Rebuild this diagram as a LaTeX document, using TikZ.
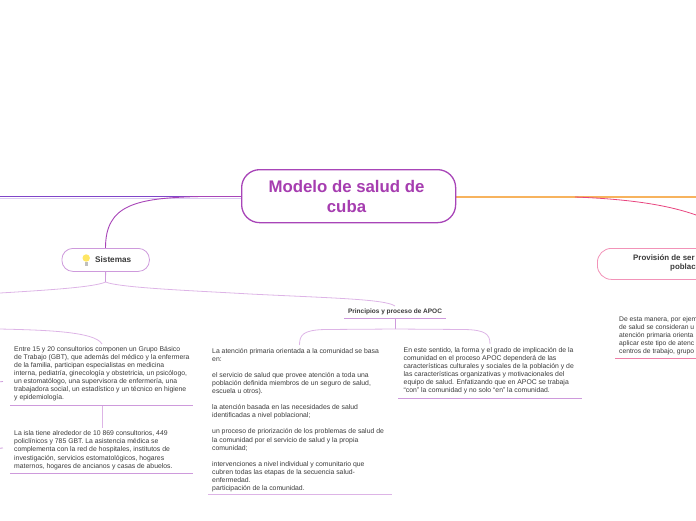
\documentclass[tikz,border=0pt]{standalone}
\usepackage{fontspec}
\setmainfont{Liberation Sans}
\definecolor{pmain}{HTML}{A63DB0}
\definecolor{pline}{HTML}{A845B8}
\definecolor{pmid}{HTML}{CE9ADC}
\definecolor{plight}{HTML}{DDB4E6}
\definecolor{ptop}{HTML}{7F45C8}
\definecolor{ptoplight}{HTML}{DCCBF2}
\definecolor{orangeline}{HTML}{F7B35E}
\definecolor{pinkline}{HTML}{E8457F}
\definecolor{pinkbox}{HTML}{F293B8}
\definecolor{pinkunder}{HTML}{EE7FA8}
\definecolor{txt}{HTML}{3A3A3A}
\tikzset{
  para/.style={anchor=north west,inner sep=0pt,align=left,text=txt,font=\fontsize{6.85}{8.05}\selectfont},
  under/.style={draw=pmid,line width=0.9pt},
  conn/.style={draw=pmid,line width=0.8pt},
  mainbox/.style={draw=pline,line width=1.3pt,rounded corners=18pt,fill=white,inner sep=0pt},
  subbox/.style={draw=pmid,line width=0.8pt,rounded corners=11pt,fill=white,inner sep=0pt},
  pinkrect/.style={draw=pinkbox,line width=0.8pt,rounded corners=14pt,fill=white,inner sep=0pt},
}
\begin{document}
\begin{tikzpicture}[x=1pt,y=-1pt]
\useasboundingbox (0,0) rectangle (696,520);
\clip (0,0) rectangle (696,520);
% anchors of free line ends
\coordinate (leftedge) at (0,196.5);
\coordinate (rightedge) at (696,197);
\coordinate (pinkend) at (696,215);
\coordinate (pinkstart) at (575,197);
\coordinate (sisfork) at (105.5,282);
\coordinate (leftfork) at (0,293);
\coordinate (aleft) at (0,329);
\coordinate (princfork) at (395,329);
% under-lines
\coordinate (ua1) at (10,405.5); \coordinate (ua2) at (193,405.5);
\coordinate (ub1) at (10,473); \coordinate (ub2) at (193,473);
\coordinate (uc1) at (208,494.5); \coordinate (uc2) at (392,494.5);
\coordinate (ud1) at (398,398); \coordinate (ud2) at (582,398);
\coordinate (up1) at (344,318.5); \coordinate (up2) at (446,318.5);
\coordinate (uq1) at (615,358.7); \coordinate (uq2) at (696,358.7);
\coordinate (ua) at (102,405.5);
\coordinate (ub) at (102,428);
\coordinate (up) at (395,318.5);
% main connectors
\draw[ptoplight,line width=1pt] (0,198) -- (241,198);
\draw[ptop,line width=0.9pt] (leftedge) -- (241,196.5);
\draw[orangeline,line width=1.1pt] (455,197) -- (rightedge);
\draw[pinkline,line width=0.8pt] (pinkstart) .. controls (625,199) and (665,204) .. (pinkend);
\draw[pline,line width=0.9pt] (241,196.5) -- (200,196.5) .. controls (135,198) and (105.5,205) .. (105.5,248);
% nodes
\node[mainbox,minimum width=214pt,minimum height=53pt,anchor=north west] (center) at (241,169) {};
\node[anchor=center,inner sep=0pt,align=center,text=pmain,font=\fontsize{16.8}{20}\bfseries\selectfont] (title) at (346.5,196) {Modelo de salud de\\cuba};
\node[subbox,minimum width=87.5pt,minimum height=23pt,anchor=north west] (sis) at (61.5,248) {};
\node[anchor=west,inner sep=0pt,text=txt,font=\fontsize{8.2}{10}\bfseries\selectfont] (sistxt) at (95,259.5) {Sistemas};
\fill[yellow!75!orange!60] (86.2,258) circle (3.7pt);
\fill[gray!50] (84.8,261.5) rectangle (87.6,265.5);
\node[pinkrect,minimum width=130pt,minimum height=31pt,anchor=north west] (prov) at (597,248) {};
\node[anchor=north west,inner sep=0pt,text=txt,font=\fontsize{7.9}{10}\bfseries\selectfont] (provone) at (633,254) {Provisión de ser};
\node[anchor=north west,inner sep=0pt,text=txt,font=\fontsize{7.9}{10}\bfseries\selectfont] (provtwo) at (670,264) {poblac};
% Sistemas fork
\draw[conn] (sis.south) -- (sisfork);
\draw[conn,plight] (sisfork) .. controls (95,287) and (50,290) .. (leftfork);
\draw[conn,plight] (sisfork) .. controls (120,288) and (200,291) .. (250,294) .. controls (330,298) and (385,299) .. (395,306);
% Left connectors
\draw[conn,plight] (aleft) .. controls (40,330) and (95,331) .. (102,344);
\draw[conn,plight] (ua) -- (ub);
\draw[conn] (0,381.8) -- (3,381.5);
\draw[conn] (0,448.2) -- (3,448);
% Principios
\node[anchor=center,inner sep=0pt,text=txt,font=\fontsize{6.5}{8}\bfseries\selectfont] (princ) at (395,311.5) {Principios y proceso de APOC};
\draw[under,line width=1.3pt] (up1) -- (up2);
\draw[conn] (up) -- (princfork);
\draw[conn,plight] (princfork) -- (325,329.5) .. controls (303,330) and (299.5,335) .. (299.5,345);
\draw[conn,plight] (princfork) -- (465,329.5) .. controls (485,330) and (490,334) .. (490,344);
% paragraphs
\node[para] (pa) at (14,346.3) {Entre 15 y 20 consultorios componen un Grupo Básico\\de Trabajo (GBT), que además del médico y la enfermera\\de la familia, participan especialistas en medicina\\interna, pediatría, ginecología y obstetricia, un psicólogo,\\un estomatólogo, una supervisora de enfermería, una\\trabajadora social, un estadístico y un técnico en higiene\\y epidemiología.};
\draw[under] (ua1) -- (ua2);
\node[para] (pb) at (14,430.7) {La isla tiene alrededor de 10 869 consultorios, 449\\policlínicos y 785 GBT. La asistencia médica se\\complementa con la red de hospitales, institutos de\\investigación, servicios estomatológicos, hogares\\maternos, hogares de ancianos y casas de abuelos.};
\draw[under] (ub1) -- (ub2);
\node[para] (pc) at (212,348.2) {La atención primaria orientada a la comunidad se basa\\en:\\[8.05pt]el servicio de salud que provee atención a toda una\\población definida miembros de un seguro de salud,\\escuela u otros).\\[8.05pt]la atención basada en las necesidades de salud\\identificadas a nivel poblacional;\\[8.05pt]un proceso de priorización de los problemas de salud de\\la comunidad por el servicio de salud y la propia\\comunidad;\\[8.05pt]intervenciones a nivel individual y comunitario que\\cubren todas las etapas de la secuencia salud-\\enfermedad.\\participación de la comunidad.};
\draw[under,plight] (uc1) -- (uc2);
\node[para] (pd) at (403.5,347.2) {En este sentido, la forma y el grado de implicación de la\\comunidad en el proceso APOC dependerá de las\\características culturales y sociales de la población y de\\las características organizativas y motivacionales del\\equipo de salud. Enfatizando que en APOC se trabaja\\“con” la comunidad y no solo “en” la comunidad.};
\draw[under] (ud1) -- (ud2);
\node[para,font=\fontsize{6.75}{8.05}\selectfont] (pe) at (619,316.2) {De esta manera, por ejem\\de salud se consideran u\\atención primaria orienta\\aplicar este tipo de atenc\\centros de trabajo, grupo};
\draw[pinkunder,line width=1.2pt] (uq1) -- (uq2);
\end{tikzpicture}
\end{document}
